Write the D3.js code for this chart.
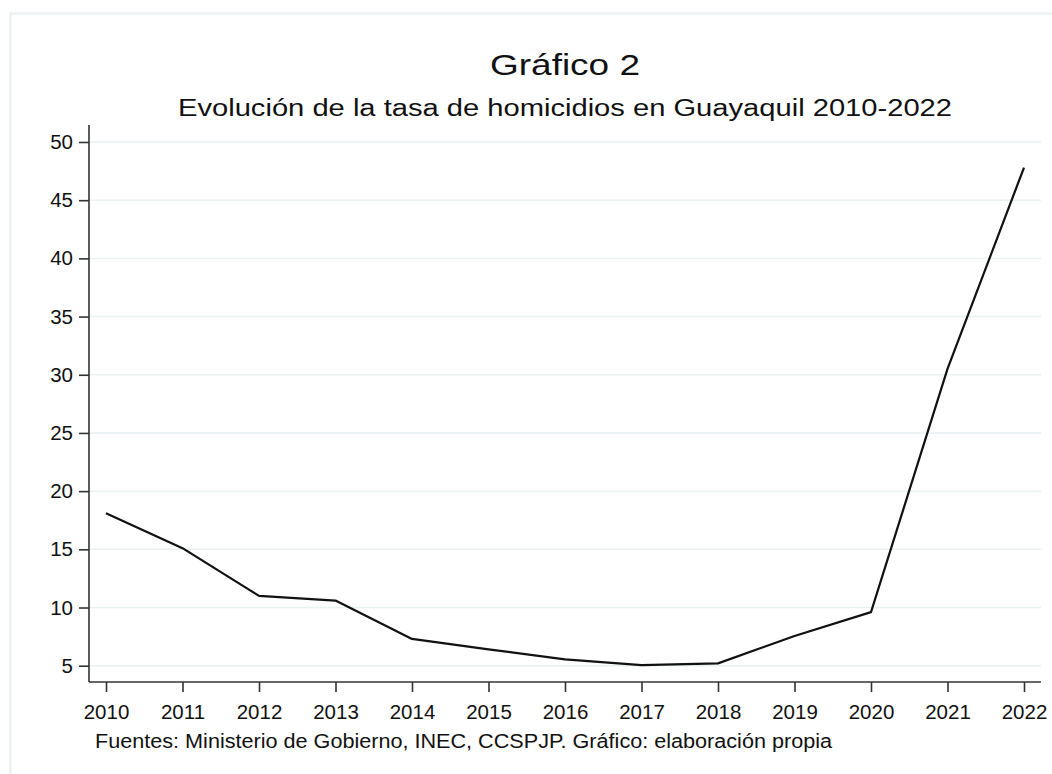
<!DOCTYPE html>
<html>
<head>
<meta charset="utf-8">
<script src="https://cdnjs.cloudflare.com/ajax/libs/d3/7.8.5/d3.min.js"></script>
<style>
  body { margin: 0; background: #fff; }
  text { font-family: "Liberation Sans", Arial, sans-serif; fill: #111; }
</style>
</head>
<body>
<script>
// data
const years = [2010, 2011, 2012, 2013, 2014, 2015, 2016, 2017, 2018, 2019, 2020, 2021, 2022];
const tasa = [18.1, 15.1, 11.0, 10.6, 7.3, 6.4, 5.55, 5.05, 5.2, 7.55, 9.6, 30.5, 47.8];
const yTicks = [5, 10, 15, 20, 25, 30, 35, 40, 45, 50];
const title = "Gráfico 2";
const subtitle = "Evolución de la tasa de homicidios en Guayaquil 2010-2022";
const note = "Fuentes: Ministerio de Gobierno, INEC, CCSPJP. Gráfico: elaboración propia";

const W = 1052, H = 774;
const svg = d3.select("body").append("svg")
    .attr("width", W)
    .attr("height", H);

// faint outer frame
svg.append("path")
    .attr("d", "M10.5," + H + " V13.5 H" + W)
    .attr("fill", "none")
    .attr("stroke", "#e8f0f2")
    .attr("stroke-width", 2);

const plotLeft = 89, plotRight = 1041, plotTop = 125, plotBottom = 682;

const x = d3.scaleLinear().domain([2010, 2022]).range([106, 1024]);
const y = d3.scaleLinear().domain([5, 50]).range([665.7, 142]);

// gridlines
svg.append("g").selectAll("line")
    .data(yTicks)
    .enter()
    .append("line")
        .attr("x1", plotLeft)
        .attr("x2", plotRight)
        .attr("y1", d => y(d))
        .attr("y2", d => y(d))
        .attr("stroke", "#e9f1f3")
        .attr("stroke-width", 1.5);

// y axis
const yAxis = svg.append("g")
    .attr("transform", "translate(" + plotLeft + ",0)")
    .call(d3.axisLeft(y).tickValues(yTicks).tickSize(10).tickPadding(6).tickSizeOuter(0));
yAxis.select(".domain").attr("d", "M0," + plotTop + "V" + plotBottom);

// x axis
const xAxis = svg.append("g")
    .attr("transform", "translate(0," + plotBottom + ")")
    .call(d3.axisBottom(x).tickValues(years).tickFormat(d3.format("d")).tickSize(10).tickPadding(12));
xAxis.select(".domain").attr("d", "M" + plotLeft + ",0H" + plotRight);

svg.selectAll(".domain").attr("stroke", "#333").attr("stroke-width", 1.6);
svg.selectAll(".tick line").attr("stroke", "#333").attr("stroke-width", 1.6);
svg.selectAll(".tick text")
    .attr("font-size", 20.5)
    .attr("font-family", "Liberation Sans, Arial, sans-serif")
    .attr("fill", "#111");

// line
const line = d3.line()
    .x((d, i) => x(years[i]))
    .y(d => y(d));

svg.append("path")
    .attr("d", line(tasa))
    .attr("fill", "none")
    .attr("stroke", "#111")
    .attr("stroke-width", 2.2)
    .attr("stroke-linejoin", "round");

// titles (the original lettering is a bit wider than Liberation Sans)
const cx = (plotLeft + plotRight) / 2;
svg.append("text")
    .attr("x", cx).attr("y", 75)
    .attr("text-anchor", "middle")
    .attr("font-size", 30)
    .attr("textLength", 150)
    .attr("lengthAdjust", "spacingAndGlyphs")
    .text(title);

svg.append("text")
    .attr("x", cx).attr("y", 116)
    .attr("text-anchor", "middle")
    .attr("font-size", 23)
    .attr("textLength", 774)
    .attr("lengthAdjust", "spacingAndGlyphs")
    .text(subtitle);

svg.append("text")
    .attr("x", 95).attr("y", 748)
    .attr("font-size", 19.5)
    .attr("textLength", 737)
    .attr("lengthAdjust", "spacingAndGlyphs")
    .text(note);
</script>
</body>
</html>
